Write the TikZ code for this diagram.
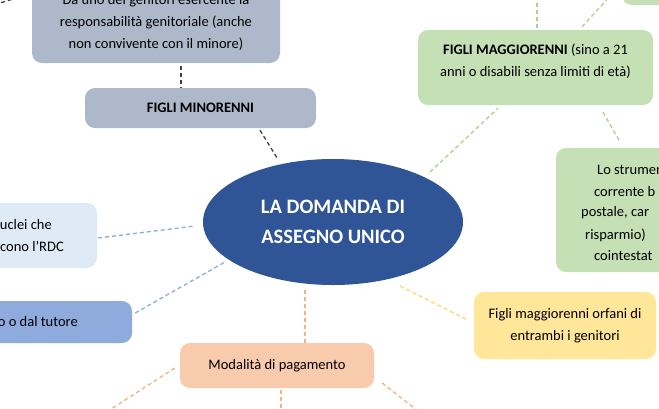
\documentclass[tikz,border=0pt]{standalone}
\usepackage{fontspec}
\setmainfont{Carlito}
\usetikzlibrary{shapes.geometric}
\definecolor{grayblue}{HTML}{ADB9CA}
\definecolor{boxgreen}{HTML}{C5E0B4}
\definecolor{lightblue}{HTML}{DEEBF7}
\definecolor{midblue}{HTML}{8FAADC}
\definecolor{peach}{HTML}{F8CBAD}
\definecolor{boxyellow}{HTML}{FFE699}
\definecolor{darkblue}{HTML}{2F5597}
\definecolor{lndark}{HTML}{404040}
\definecolor{lnblue}{HTML}{8FAADC}
\definecolor{lngreen}{HTML}{A9D18E}
\definecolor{lnorange}{HTML}{F4B183}
\definecolor{lnyellow}{HTML}{FFD966}
\newcommand{\boxfont}{\fontsize{14.5}{22}\selectfont}
\begin{document}
\begin{tikzpicture}[x=1pt,y=-1pt,
  box/.style={rounded corners=10pt, inner sep=0pt, align=center, font=\boxfont, text=black},
  txt/.style={inner sep=0pt, font=\boxfont, text=black},
  conn/.style={line width=1.3pt, dash pattern=on 4pt off 3pt}]
\useasboundingbox (0,0) rectangle (659,408);
\clip (0,0) rectangle (659,408);
\fill[white] (0,0) rectangle (659,408);

% boxes
\node[box, fill=grayblue, minimum width=248pt, minimum height=82pt] (topbox) at (156,22)
  {Da uno dei genitori esercente la\\responsabilità genitoriale (anche\\non convivente con il minore)};
\node[box, fill=grayblue, minimum width=231pt, minimum height=40pt, font=\boxfont\bfseries] (minori) at (200.5,108) {FIGLI MINORENNI};
\node[ellipse, fill=darkblue, minimum width=260pt, minimum height=126pt, inner sep=0pt, text=white,
  font=\fontsize{20.5}{30}\selectfont\bfseries, align=center] (center) at (333,222) {LA DOMANDA DI\\ASSEGNO UNICO};
\node[box, fill=boxgreen, minimum width=235pt, minimum height=75pt] (maggiori) at (535.5,67.5) {};
\node[txt, align=center] (maggioriT) at (535.5,61.5) {\textbf{FIGLI MAGGIORENNI} (sino a 21\\anni o disabili senza limiti di età)};
\node[box, fill=boxgreen, minimum width=80pt, minimum height=30pt] (topright) at (662,-10) {};
\node[box, fill=boxgreen, minimum width=244pt, minimum height=124pt] (strumento) at (678,210) {};
\node[txt, anchor=west] (s1) at (597,170) {Lo strumen};
\node[txt, anchor=west] (s2) at (594,192) {corrente b};
\node[txt, anchor=west] (s3) at (581,213) {postale, car};
\node[txt, anchor=west] (s4) at (585,235) {risparmio)};
\node[txt, anchor=west] (s5) at (594,256) {cointestat};
\node[box, fill=lightblue, minimum width=117pt, minimum height=65pt] (rdc) at (38.5,235.5) {};
\node[txt, anchor=east] (r1) at (52,225) {uclei che};
\node[txt, anchor=east] (r2) at (64,246) {cono l’RDC};
\node[box, fill=midblue, minimum width=152pt, minimum height=42pt] (tutore) at (56,322) {};
\node[txt, anchor=east] (t1) at (78,322) {o o dal tutore};
\node[box, fill=peach, minimum width=194pt, minimum height=45pt] (pagamento) at (277,365.5) {Modalità di pagamento};
\node[box, fill=boxyellow, minimum width=182pt, minimum height=67pt] (orfani) at (565,325.5) {Figli maggiorenni orfani di\\entrambi i genitori};

% free ends
\coordinate (p1) at (108,411);
\coordinate (p2) at (281,411);
\coordinate (p3) at (418,411);
\coordinate (p4) at (537,-6);
\coordinate (p5) at (612,-6);
\coordinate (p6) at (-20,9);

% connectors
\draw[conn, draw=lndark] ([shift={(0,-28.6)}]topbox.west) -- (p6);
\draw[conn, draw=lndark] ([shift={(25,3)}]topbox.south) -- ([shift={(-19.5,0)}]minori.north);
\draw[conn, draw=lndark] ([shift={(59.5,2)}]minori.south) -- ([shift={(-56,-1)}]center.north);
\draw[conn, draw=lnblue] ([shift={(1,2.5)}]rdc.east) -- ([shift={(-8,4)}]center.west);
\draw[conn, draw=lnblue] ([shift={(3,-9)}]tutore.east) -- ([shift={(-108,40)}]center.center);
\draw[conn, draw=lnorange] ([shift={(-28,5)}]center.south) -- ([shift={(28,0)}]pagamento.north);
\draw[conn, draw=lnorange] ([shift={(-5,2.5)}]pagamento.west) -- (p1);
\draw[conn, draw=lnorange] ([shift={(4,2)}]pagamento.south) -- (p2);
\draw[conn, draw=lnorange] ([shift={(8,17.5)}]pagamento.east) -- (p3);
\draw[conn, draw=lnyellow] ([shift={(67,64)}]center.center) -- ([shift={(-6,-5.5)}]orfani.west);
\draw[conn, draw=lngreen] ([shift={(97,-50)}]center.center) -- ([shift={(-37.5,3)}]maggiori.south);
\draw[conn, draw=lngreen] ([shift={(67.5,7)}]maggiori.south) -- ([shift={(-58,-6)}]strumento.north);
\draw[conn, draw=lngreen] ([shift={(1.5,-2)}]maggiori.north) -- (p4);
\draw[conn, draw=lngreen] ([shift={(46.5,-3)}]maggiori.north) -- (p5);
\end{tikzpicture}
\end{document}
